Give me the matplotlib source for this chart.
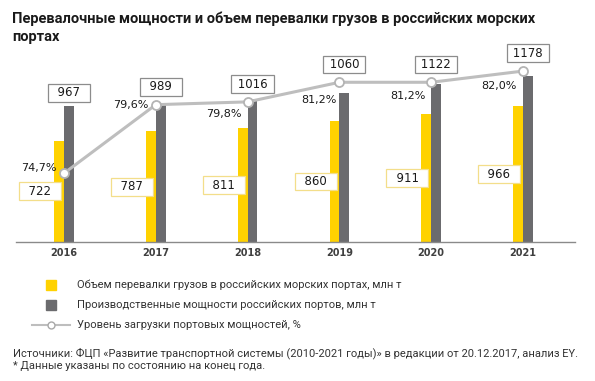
import matplotlib as mpl
mpl.use("Agg")
import matplotlib.pyplot as plt
from matplotlib.lines import Line2D
import numpy as np

# data
years = ['2016', '2017', '2018', '2019', '2020', '2021']
volume = [722, 787, 811, 860, 911, 966]          # cargo handled, mln t
capacity = [967, 989, 1016, 1060, 1122, 1178]    # port capacity, mln t
load = [74.7, 79.6, 79.8, 81.2, 81.2, 82.0]      # capacity utilisation, %

title = ('Перевалочные мощности и объем перевалки грузов в российских морских\n'
         'портах')
legend_labels = ['Объем перевалки грузов в российских морских портах, млн т',
                 'Производственные мощности российских портов, млн т',
                 'Уровень загрузки портовых мощностей, %']
source = ('Источники: ФЦП «Развитие транспортной системы (2010-2021 годы)» '
          'в редакции от 20.12.2017, анализ EY.')
note = '* Данные указаны по состоянию на конец года.'

YELLOW = '#FFD200'
GRAY = '#6B6B6E'
LINE = '#BEBEBE'
TXT = '#1A1A1A'

# figure is 595x381 px at dpi 100, so 1 px = 0.72 pt
W, H = 595, 381
px = 0.72
fig = plt.figure(figsize=(W / 100, H / 100), dpi=100)

# plot area in pixels: x 16..575, y 40..242 (from top)
ax = fig.add_axes([16 / W, (H - 242) / H, 559 / W, 202 / H])
step = 91.8      # px between year groups
bw = 9.8 / step  # bar width in data units
unit = 0.1405    # px per mln t
ymax = 202 / unit
p_lo, p_hi = 69.79, 84.22

x = np.arange(len(years))
ax.bar(x - bw / 2, volume, bw, color=YELLOW, zorder=2)
ax.bar(x + bw / 2, capacity, bw, color=GRAY, zorder=2)
ax.set_xlim((16 - 64) / step, (575 - 64) / step)
ax.set_ylim(0, ymax)
ax.set_xticks(x)
ax.set_xticklabels(years, fontsize=7, fontweight='bold', color='#404040')
ax.tick_params(axis='x', length=0, pad=4)
ax.set_yticks([])
for s in ['top', 'left', 'right']:
    ax.spines[s].set_visible(False)
ax.spines['bottom'].set_color('#8A8A8A')
ax.spines['bottom'].set_linewidth(1.0)

# utilisation line on its own scale
ax2 = ax.twinx()
ax2.set_ylim(p_lo, p_hi)
ax2.axis('off')
ax2.plot(x, load, color=LINE, lw=2.2, marker='o', ms=6.5,
         mfc='white', mec='#B4B4B4', mew=1.3, zorder=3)

# percent labels, offsets in px (right, down)
pct_off = [(-7, -5), (-7, 0), (-6, 12), (-3, 18), (-6, 14), (-6, 15)]
for i, p in enumerate(load):
    dx, dy = pct_off[i]
    ax2.annotate(f'{p:.1f}%'.replace('.', ','), xy=(i, p),
                 xytext=(dx * px, -dy * px), textcoords='offset points',
                 ha='right', va='center', fontsize=8, color=TXT, zorder=5)

pad = 0.2
def boxed(v):
    s = str(v)
    sp = ' ' * (2 if len(s) == 3 else 1)
    return sp + s + sp

# yellow bar labels, overlapping the left of the bar
for i, v in enumerate(volume):
    ax2.annotate(boxed(v), xy=(i - bw + 7 / step, v / 2), xycoords=ax.transData,
                 xytext=(-pad * 8.5, 0), textcoords='offset points',
                 ha='right', va='center', fontsize=8.5, color=TXT, zorder=6,
                 bbox=dict(boxstyle=f'square,pad={pad}', fc='white',
                           ec='#F3DE8A', lw=0.9))

# gray bar labels, above the bar or the line marker, whichever is higher
for i, v in enumerate(capacity):
    ymark = (load[i] - p_lo) / (p_hi - p_lo) * ymax
    base = max(v, ymark + 4.5 / unit)
    ax2.annotate(boxed(v), xy=(i + bw / 2, base), xycoords=ax.transData,
                 xytext=(0, 4.5 * px + pad * 8.5), textcoords='offset points',
                 ha='center', va='bottom', fontsize=8.5, color=TXT, zorder=6,
                 bbox=dict(boxstyle=f'square,pad={pad}', fc='white',
                           ec='#8C8C8C', lw=0.9))

fig.text(12 / W, 1 - 12 / H, title, ha='left', va='top', fontsize=10.5,
         fontweight='bold', family='Roboto', color=TXT, linespacing=1.3)

handles = [
    Line2D([], [], ls='none', marker='s', ms=6.5, color=YELLOW),
    Line2D([], [], ls='none', marker='s', ms=6.5, color=GRAY),
    Line2D([], [], color=LINE, lw=1.5, marker='o', ms=5, mfc='white',
           mec='#A8A8A8', mew=1),
]
fig.legend(handles, legend_labels, loc='upper left',
           bbox_to_anchor=(32 / W, 1 - 280 / H), frameon=False,
           prop={'family': 'Roboto', 'size': 8}, labelcolor='#333333',
           handlelength=3.4, handletextpad=0.65, labelspacing=0.9,
           borderpad=0, borderaxespad=0)

fig.text(13 / W, 1 - 353 / H, source, ha='left', va='center', fontsize=8,
         family='Roboto', color='#333333')
fig.text(13 / W, 1 - 366 / H, note, ha='left', va='center', fontsize=8,
         family='Roboto', color='#333333')

fig.savefig('out.png', dpi=100)
plt.close(fig)
